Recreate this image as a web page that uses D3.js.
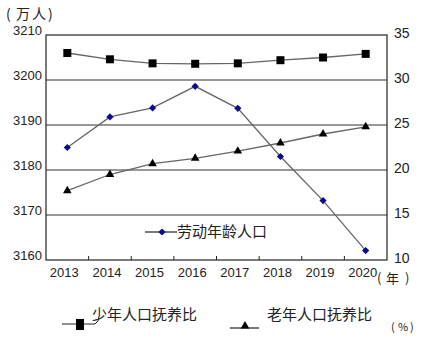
<!DOCTYPE html>
<html>
<head>
<meta charset="utf-8">
<script src="https://cdn.jsdelivr.net/npm/d3@7"></script>
<style>
  html, body { margin: 0; padding: 0; background: #fff; }
  svg { display: block; font-family: "Liberation Sans", Arial, "Noto Sans CJK SC", sans-serif; }
  .cjk { font-family: "Noto Sans CJK SC", sans-serif; }
</style>
</head>
<body>
<svg id="chart" width="425" height="344"></svg>
<script>
// Years on the category axis
const years = ["2013", "2014", "2015", "2016", "2017", "2018", "2019", "2020"];
// Working-age population (10k persons), left axis
const laborPop = [3185.0, 3191.8, 3193.8, 3198.6, 3193.7, 3183.0, 3173.2, 3162.1];
// Child dependency ratio (%), right axis
const childRatio = [33.0, 32.3, 31.85, 31.8, 31.85, 32.2, 32.5, 32.9];
// Old-age dependency ratio (%), right axis
const oldRatio = [17.7, 19.5, 20.7, 21.3, 22.1, 23.0, 24.0, 24.8];
// Axis ticks
const leftTicks = [3160, 3170, 3180, 3190, 3200, 3210];
const rightTicks = [10, 15, 20, 25, 30, 35];

const svg = d3.select("#chart");
const m = { left: 46, right: 387, top: 35, bottom: 260 };

const x = d3.scaleBand().domain(years).range([m.left, m.right]);
const yL = d3.scaleLinear().domain([3160, 3210]).range([m.bottom, m.top]);
const yR = d3.scaleLinear().domain([10, 35]).range([m.bottom, m.top]);
const cx = d => x(d) + x.bandwidth() / 2;

// horizontal grid lines
svg.append("g").selectAll("line")
  .data(leftTicks.slice(1, -1)).join("line")
  .attr("x1", m.left).attr("x2", m.right)
  .attr("y1", d => yL(d)).attr("y2", d => yL(d))
  .attr("stroke", "#333").attr("stroke-width", 1.2);

// plot frame
svg.append("rect")
  .attr("x", m.left).attr("y", m.top)
  .attr("width", m.right - m.left).attr("height", m.bottom - m.top)
  .attr("fill", "none").attr("stroke", "#222").attr("stroke-width", 1.2);

// bottom axis: inward ticks at band edges, labels under each band
const xAxis = d3.axisBottom(x).tickSize(0).tickPadding(8);
const gx = svg.append("g").attr("transform", `translate(0,${m.bottom})`).call(xAxis);
gx.select(".domain").remove();
gx.selectAll("text").attr("font-size", 13).attr("fill", "#222").attr("dx", "-3");
svg.append("g").selectAll("line")
  .data(years.slice(1)).join("line")
  .attr("x1", d => x(d)).attr("x2", d => x(d))
  .attr("y1", m.bottom).attr("y2", m.bottom - 4)
  .attr("stroke", "#222");

// left axis labels
const gl = svg.append("g").attr("transform", `translate(${m.left},0)`)
  .call(d3.axisLeft(yL).tickValues(leftTicks).tickSize(0).tickPadding(4).tickFormat(d3.format("d")));
gl.select(".domain").remove();
gl.selectAll("text").attr("font-size", 13).attr("fill", "#222").attr("dy", "-0.05em");

// right axis labels
const gr = svg.append("g").attr("transform", `translate(${m.right},0)`)
  .call(d3.axisRight(yR).tickValues(rightTicks).tickSize(0).tickPadding(7));
gr.select(".domain").remove();
gr.selectAll("text").attr("font-size", 14).attr("fill", "#222").attr("dy", "0.2em");

// unit labels, bracket pieces placed individually for compact spacing
function bracketed(xs, y, parts, size) {
  const t = svg.append("text").attr("y", y).attr("font-size", size).attr("fill", "#222").attr("class", "cjk");
  parts.forEach((p, i) => t.append("tspan").attr("x", xs[i]).text(p));
}
bracketed([6, 16, 32, 48], 19, ["(", "万", "人", ")"], 14);
bracketed([377, 386, 405], 283, ["(", "年", ")"], 13);
bracketed([391, 398, 410], 331, ["(", "%", ")"], 11);

const line = yS => d3.line().x((d, i) => cx(years[i])).y(d => yS(d));

// series lines
[[childRatio, yR], [oldRatio, yR], [laborPop, yL]].forEach(([data, ys]) => {
  svg.append("path").datum(data)
    .attr("d", line(ys))
    .attr("fill", "none").attr("stroke", "#666").attr("stroke-width", 1.3);
});

// markers
const sq = d3.symbol().type(d3.symbolSquare).size(64);
const tri = d3.symbol().type(d3.symbolTriangle).size(32);
const dia = "M0,-3.6L3.6,0L0,3.6L-3.6,0Z";

svg.append("g").selectAll("path").data(childRatio).join("path")
  .attr("transform", (d, i) => `translate(${cx(years[i])},${yR(d)})`)
  .attr("d", sq).attr("fill", "#000");
svg.append("g").selectAll("path").data(oldRatio).join("path")
  .attr("transform", (d, i) => `translate(${cx(years[i])},${yR(d)})`)
  .attr("d", tri).attr("fill", "#000");
svg.append("g").selectAll("path").data(laborPop).join("path")
  .attr("transform", (d, i) => `translate(${cx(years[i])},${yL(d)})`)
  .attr("d", dia).attr("fill", "#0a0a8c");

// legend: working-age population (inside plot)
svg.append("line").attr("x1", 145).attr("x2", 177).attr("y1", 232).attr("y2", 232).attr("stroke", "#222").attr("stroke-width", 1.2);
svg.append("path").attr("transform", "translate(162,232)").attr("d", dia).attr("fill", "#0a0a8c");
svg.append("text").attr("class", "cjk").attr("x", 177).attr("y", 237)
  .attr("font-size", 15).attr("fill", "#222").text("劳动年龄人口");

// legend: child dependency ratio
svg.append("line").attr("x1", 62).attr("x2", 95).attr("y1", 324).attr("y2", 324).attr("stroke", "#222").attr("stroke-width", 1.2);
svg.append("rect").attr("x", 76).attr("y", 319).attr("width", 8).attr("height", 11).attr("fill", "#000");
svg.append("path").attr("d", "M95,324 Q99,322 99,316").attr("fill", "none").attr("stroke", "#222");
svg.append("text").attr("class", "cjk").attr("x", 92).attr("y", 320)
  .attr("font-size", 15).attr("fill", "#222").text("少年人口抚养比");

// legend: old-age dependency ratio
svg.append("line").attr("x1", 230).attr("x2", 259).attr("y1", 328).attr("y2", 328).attr("stroke", "#222").attr("stroke-width", 1.2);
svg.append("path").attr("transform", "translate(245,326)").attr("d", tri).attr("fill", "#000");
svg.append("text").attr("class", "cjk").attr("x", 267).attr("y", 320)
  .attr("font-size", 15).attr("fill", "#222").text("老年人口抚养比");
</script>
</body>
</html>
